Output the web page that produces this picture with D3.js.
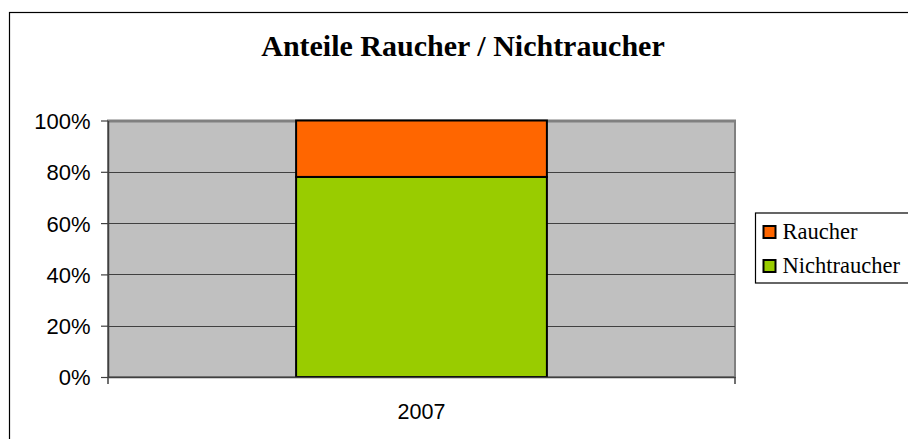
<!DOCTYPE html>
<html><head><meta charset="utf-8">
<script src="https://cdn.jsdelivr.net/npm/d3@7"></script>
<style>body{margin:0;background:#fff}svg{display:block}</style>
</head><body>
<svg id="c" width="908" height="439"></svg>
<script>
const categories = ["2007"];
const seriesNames = ["Nichtraucher", "Raucher"];
const nichtraucher = [0.78];
const raucher = [0.22];
const yTicks = [0, 0.2, 0.4, 0.6, 0.8, 1.0];
const colors = {Raucher: "#FF6600", Nichtraucher: "#99CC00"};
const legendOrder = ["Raucher", "Nichtraucher"];
const title = "Anteile Raucher / Nichtraucher";

const svg = d3.select("#c");
const L = 108, R = 735, T = 120.5, B = 377;

// outer frame
svg.append("rect").attr("x", 9.5).attr("y", 12.5).attr("width", 1000).attr("height", 1000)
  .attr("fill", "#fff").attr("stroke", "#000").attr("stroke-width", 1.2);

svg.append("text").attr("x", 463).attr("y", 56).attr("text-anchor", "middle")
  .attr("font-family", "Liberation Serif, Times New Roman, serif").attr("font-weight", "bold")
  .attr("font-size", 30).text(title);

const x = d3.scaleBand().domain(categories).range([L, R]).paddingInner(0).paddingOuter(0.75);
const y = d3.scaleLinear().domain([0, 1]).range([B, T]);

svg.append("rect").attr("x", L).attr("y", T).attr("width", R - L).attr("height", B - T)
  .attr("fill", "#C0C0C0").attr("stroke", "#808080").attr("stroke-width", 2);

svg.append("g").selectAll("line").data(yTicks.filter(d => d > 0)).join("line")
  .attr("x1", L).attr("x2", R).attr("y1", d => Math.round(y(d)) + 0.5).attr("y2", d => Math.round(y(d)) + 0.5)
  .attr("stroke", d => d === 1 ? "#808080" : "#404040").attr("stroke-width", d => d === 1 ? 2 : 1.2);

const stackData = categories.map((c, i) => ({cat: c, Nichtraucher: nichtraucher[i], Raucher: raucher[i]}));
const stack = d3.stack().keys(seriesNames)(stackData);
svg.append("g").selectAll("g").data(stack).join("g")
  .attr("fill", d => colors[d.key])
  .selectAll("rect").data(d => d).join("rect")
  .attr("x", d => x(d.data.cat)).attr("width", x.bandwidth())
  .attr("y", d => y(d[1])).attr("height", d => y(d[0]) - y(d[1]))
  .attr("stroke", "#000").attr("stroke-width", 2);

// y axis
const ya = svg.append("g").attr("transform", `translate(${L},0)`)
  .call(d3.axisLeft(y).tickValues(yTicks).tickFormat(d3.format(".0%")).tickSize(7).tickSizeOuter(0));
ya.select(".domain").attr("stroke", "#404040").attr("stroke-width", 1.5);
ya.selectAll(".tick line").attr("stroke", "#404040").attr("stroke-width", 1.2);
ya.selectAll("text").attr("font-family", "Liberation Sans, Arial, sans-serif").attr("font-size", 22)
  .attr("fill", "#000").attr("x", -17.5).attr("dy", "0.36em");

// x axis
const xa = svg.append("g").attr("transform", `translate(0,${B})`)
  .call(d3.axisBottom(x).tickSize(0).tickSizeOuter(0));
xa.select(".domain").attr("stroke", "#404040").attr("stroke-width", 1.5);
xa.selectAll("text").attr("font-family", "Liberation Sans, Arial, sans-serif").attr("font-size", 21.5)
  .attr("fill", "#000").attr("y", 41.5).attr("dy", 0);
xa.append("g").selectAll("line").data([L, R]).join("line")
  .attr("x1", d => d).attr("x2", d => d).attr("y1", 0).attr("y2", 7)
  .attr("stroke", "#404040").attr("stroke-width", 1.5);

// legend
const lg = svg.append("g");
lg.append("rect").attr("x", 755.5).attr("y", 213).attr("width", 160).attr("height", 70)
  .attr("fill", "#fff").attr("stroke", "#000").attr("stroke-width", 1.2);
const li = lg.selectAll("g.item").data(legendOrder).join("g").attr("class", "item")
  .attr("transform", (d, i) => `translate(763.5,${226 + i * 34})`);
li.append("rect").attr("width", 12).attr("height", 12).attr("fill", d => colors[d])
  .attr("stroke", "#000").attr("stroke-width", 2);
li.append("text").attr("x", 19).attr("y", 13.3)
  .attr("font-family", "Liberation Serif, Times New Roman, serif").attr("font-size", 22.5).text(d => d);
</script>
</body></html>
